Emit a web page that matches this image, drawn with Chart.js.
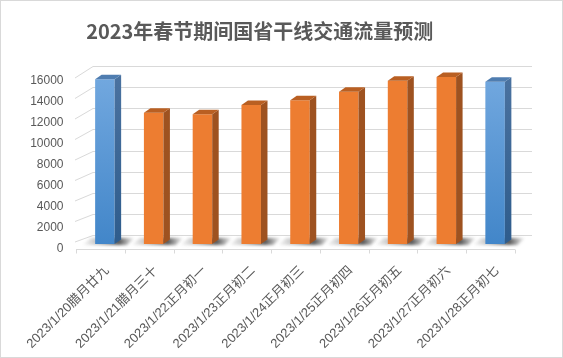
<!DOCTYPE html>
<html><head><meta charset="utf-8">
<script src="https://cdn.jsdelivr.net/npm/chart.js@4.4.1/dist/chart.umd.min.js"></script>
<style>html,body{margin:0;padding:0;background:#fff}canvas{display:block}</style>
</head><body>
<canvas id="c" width="563" height="358"></canvas>
<script>
// ---- data ----
const titleText = '2023年春节期间国省干线交通流量预测';
const categories = ['2023/1/20腊月廿九','2023/1/21腊月三十','2023/1/22正月初一','2023/1/23正月初二','2023/1/24正月初三','2023/1/25正月初四','2023/1/26正月初五','2023/1/27正月初六','2023/1/28正月初七'];
const trafficVolume = [15700, 12500, 12350, 13250, 13700, 14500, 15550, 15900, 15450];
const yTicks = [0, 2000, 4000, 6000, 8000, 10000, 12000, 14000, 16000];
const blueIndices = [0, 8];

// ---- style ----
const FONT = '"Noto Sans CJK SC", "Noto Sans", sans-serif';
const TICK_FONT = '"Liberation Sans", "Noto Sans CJK SC", sans-serif';
const TXT = '#595959';
const GRID = '#D9D9D9';
const DEPTH_X = 6.5, DEPTH_Y = 4.5;
const isBlue = i => blueIndices.includes(i);

function frontColor(ctx) {
  const i = ctx.dataIndex;
  if (!isBlue(i)) return '#ED7D31';
  const ca = ctx.chart.chartArea;
  if (!ca) return '#5B9BD5';
  const g = ctx.chart.ctx.createLinearGradient(0, ca.top, 0, ca.bottom);
  g.addColorStop(0, '#72A8DF');
  g.addColorStop(1, '#4286C9');
  return g;
}

const threeD = {
  id: 'threeD',
  beforeDraw(chart) {
    const c = chart.ctx;
    c.save();
    c.fillStyle = '#fff';
    c.fillRect(0, 0, chart.width, chart.height);
    c.restore();
  },
  beforeDatasetsDraw(chart) {
    const c = chart.ctx, ys = chart.scales.y, ca = chart.chartArea;
    const fl = ca.left - 4.5, fr = ca.right - 4.5;
    const max = yTicks[yTicks.length - 1];
    c.save();
    c.strokeStyle = GRID;
    c.lineWidth = 1;
    yTicks.forEach(v => {
      const yf = ys.getPixelForValue(v);
      const t = v / max;
      const yb = Math.round(yf - 9 - t) + 0.5;
      const yl = yf - 2 + 4 * t;
      c.beginPath();
      c.moveTo(fl - 1, yl);
      c.lineTo(ca.left + 12.5, yb);
      c.lineTo(ca.right + 12.5, yb);
      c.stroke();
    });
    const yfl = Math.round(ca.bottom + 5) + 0.5;
    c.beginPath();
    c.moveTo(fl, yfl); c.lineTo(fr, yfl);
    const n = categories.length;
    for (let i = 0; i <= n; i++) {
      const x = Math.round(fl + i * (fr - fl) / n) + 0.5;
      c.moveTo(x, yfl); c.lineTo(x, yfl + 4);
    }
    c.stroke();
    const meta = chart.getDatasetMeta(0);
    meta.data.forEach(el => {
      const p = el.getProps(['x', 'base', 'width'], true);
      const g = c.createLinearGradient(p.x - 24, 0, p.x + 30, 0);
      g.addColorStop(0, 'rgba(60,60,60,0)');
      g.addColorStop(0.3, 'rgba(60,60,60,0.3)');
      g.addColorStop(0.7, 'rgba(30,30,30,0.75)');
      g.addColorStop(1, 'rgba(30,30,30,0)');
      c.save();
      c.filter = 'blur(1.5px)';
      c.fillStyle = g;
      c.beginPath();
      c.moveTo(p.x - 22, p.base + 1);
      c.lineTo(p.x + 22, p.base + 1);
      c.lineTo(p.x + 30, p.base - 6);
      c.lineTo(p.x - 14, p.base - 6);
      c.closePath();
      c.fill();
      c.restore();
    });
    c.restore();
  },
  afterDatasetsDraw(chart) {
    const c = chart.ctx, ca = chart.chartArea;
    const meta = chart.getDatasetMeta(0);
    c.save();
    meta.data.forEach((el, i) => {
      const p = el.getProps(['x', 'y', 'base', 'width'], true);
      const x0 = p.x - p.width / 2, x1 = p.x + p.width / 2;
      const blue = isBlue(i);
      let side;
      if (blue) {
        side = c.createLinearGradient(0, ca.top, 0, ca.bottom);
        side.addColorStop(0, '#4A72A0');
        side.addColorStop(1, '#2E5C8C');
      } else {
        side = '#9E5220';
      }
      c.fillStyle = side;
      c.beginPath();
      c.moveTo(x1, p.y);
      c.lineTo(x1 + DEPTH_X, p.y - DEPTH_Y);
      c.lineTo(x1 + DEPTH_X, p.base - DEPTH_Y);
      c.lineTo(x1, p.base);
      c.closePath();
      c.fill();
      c.fillStyle = blue ? '#4F7DB0' : '#B95F22';
      c.beginPath();
      c.moveTo(x0, p.y);
      c.lineTo(x0 + DEPTH_X, p.y - DEPTH_Y);
      c.lineTo(x1 + DEPTH_X, p.y - DEPTH_Y);
      c.lineTo(x1, p.y);
      c.closePath();
      c.fill();
    });
    c.restore();
  },
  afterDraw(chart) {
    const c = chart.ctx;
    c.save();
    c.strokeStyle = '#D9D9D9';
    c.lineWidth = 1;
    c.strokeRect(0.5, 0.5, chart.width - 1, chart.height - 1);
    c.restore();
  }
};

new Chart(document.getElementById('c'), {
  type: 'bar',
  data: {
    labels: categories,
    datasets: [{
      data: trafficVolume,
      backgroundColor: frontColor,
      borderWidth: 0,
      barPercentage: 0.4,
      categoryPercentage: 1
    }]
  },
  options: {
    responsive: false,
    animation: false,
    events: [],
    layout: { padding: { left: 0, right: 43.5, top: 0, bottom: 0 } },
    plugins: {
      legend: { display: false },
      tooltip: { enabled: false },
      title: {
        display: true,
        text: titleText,
        color: TXT,
        font: { family: FONT, size: 20, weight: 'bold', lineHeight: 1.2 },
        padding: { top: 19.5, bottom: 32.5 }
      }
    },
    scales: {
      x: {
        grid: { display: false, drawTicks: false },
        border: { display: false },
        ticks: {
          color: TXT,
          font: { family: TICK_FONT, size: 13 },
          maxRotation: 45,
          minRotation: 45,
          autoSkip: false,
          padding: 19,
          labelOffset: 2
        },
        afterFit(scale) { scale.height = 114; }
      },
      y: {
        min: 0,
        max: 16000,
        afterBuildTicks(scale) { scale.ticks = yTicks.map(v => ({ value: v })); },
        grid: { display: false, drawTicks: false },
        border: { display: false },
        ticks: {
          color: TXT,
          font: { family: TICK_FONT, size: 12 },
          padding: 17,
          labelOffset: 5,
          callback: v => String(v)
        },
        afterFit(scale) { scale.width = 80.5; }
      }
    }
  },
  plugins: [threeD]
});
</script>
</body></html>
